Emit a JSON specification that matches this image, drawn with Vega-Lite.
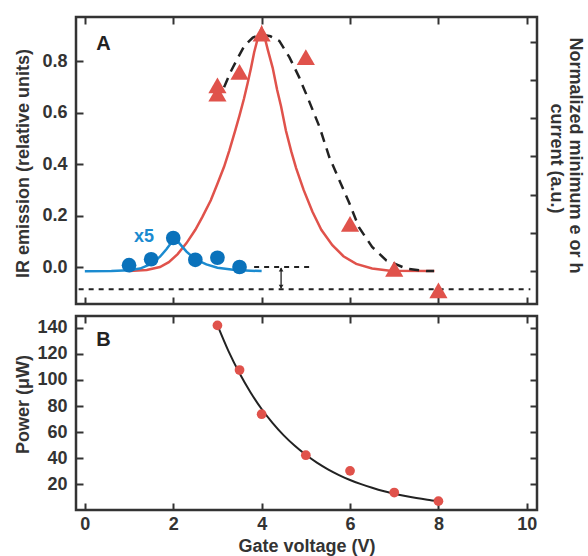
{
  "$schema": "https://vega.github.io/schema/vega-lite/v6.json",
  "background": "white",
  "padding": {"top": 14, "left": 12, "right": 2, "bottom": 0},
  "autosize": {"type": "pad"},
  "spacing": 6,
  "config": {
    "view": {"stroke": "#333333", "strokeWidth": 2.5},
    "axis": {
      "domain": false,
      "grid": false,
      "tickSize": -7,
      "tickWidth": 2,
      "tickColor": "#333333",
      "labelFont": "Liberation Sans",
      "labelFontWeight": "bold",
      "labelFontSize": 18,
      "labelColor": "#333333",
      "labelPadding": 16,
      "titleFont": "Liberation Sans",
      "titleFontWeight": "bold",
      "titleFontSize": 18,
      "titleColor": "#333333"
    }
  },
  "vconcat": [
    {
      "width": 461,
      "height": 287,
      "resolve": {"axis": {"x": "independent", "y": "independent"}},
      "layer": [
        {
          "data": {"values": [{"x": -0.14, "x2": 10.08, "y": -0.087}, {"x": 3.83, "x2": 5.1, "y": 0.0}]},
          "mark": {"type": "rule", "color": "#222222", "strokeWidth": 2, "strokeDash": [5, 5]},
          "encoding": {
            "x": {"field": "x", "type": "quantitative", "scale": {"domain": [-0.2, 10.23], "nice": false, "zero": false}, "axis": null},
            "x2": {"field": "x2"},
            "y": {"field": "y", "type": "quantitative", "scale": {"domain": [-0.144, 0.973], "nice": false, "zero": false}, "axis": null}
          }
        },
        {
          "data": {"values": [{"x": 4.44, "y": -0.004, "y2": -0.083}]},
          "mark": {"type": "rule", "color": "#222222", "strokeWidth": 1.3},
          "encoding": {
            "x": {"field": "x", "type": "quantitative", "scale": {"domain": [-0.2, 10.23], "nice": false, "zero": false}, "axis": null},
            "y": {"field": "y", "type": "quantitative", "scale": {"domain": [-0.144, 0.973], "nice": false, "zero": false}, "axis": null},
            "y2": {"field": "y2"}
          }
        },
        {
          "data": {"values": [{"x": 4.44, "y": -0.01, "s": "triangle-up"}, {"x": 4.44, "y": -0.077, "s": "triangle-down"}]},
          "mark": {"type": "point", "filled": true, "color": "#222222", "size": 22, "opacity": 1},
          "encoding": {
            "x": {"field": "x", "type": "quantitative", "scale": {"domain": [-0.2, 10.23], "nice": false, "zero": false}, "axis": null},
            "y": {"field": "y", "type": "quantitative", "scale": {"domain": [-0.144, 0.973], "nice": false, "zero": false}, "axis": null},
            "shape": {"field": "s", "type": "nominal", "scale": null, "legend": null}
          }
        },
        {
          "data": {"values": [
            {"x": 1.0, "y": -0.016}, {"x": 1.4, "y": -0.012}, {"x": 1.7, "y": 0.0}, {"x": 1.9, "y": 0.019},
            {"x": 2.1, "y": 0.05}, {"x": 2.3, "y": 0.093}, {"x": 2.5, "y": 0.145}, {"x": 2.66, "y": 0.195},
            {"x": 2.85, "y": 0.26}, {"x": 3.0, "y": 0.324}, {"x": 3.15, "y": 0.39}, {"x": 3.27, "y": 0.454},
            {"x": 3.4, "y": 0.53}, {"x": 3.5, "y": 0.59}, {"x": 3.6, "y": 0.655}, {"x": 3.68, "y": 0.713},
            {"x": 3.76, "y": 0.775}, {"x": 3.83, "y": 0.835}, {"x": 3.92, "y": 0.895}, {"x": 4.0, "y": 0.93},
            {"x": 4.06, "y": 0.9}, {"x": 4.14, "y": 0.845}, {"x": 4.25, "y": 0.775}, {"x": 4.35, "y": 0.69},
            {"x": 4.44, "y": 0.625}, {"x": 4.55, "y": 0.53}, {"x": 4.67, "y": 0.45}, {"x": 4.78, "y": 0.385},
            {"x": 4.95, "y": 0.3}, {"x": 5.15, "y": 0.215}, {"x": 5.35, "y": 0.145}, {"x": 5.6, "y": 0.085},
            {"x": 5.85, "y": 0.042}, {"x": 6.14, "y": 0.012}, {"x": 6.5, "y": -0.006}, {"x": 6.9, "y": -0.015},
            {"x": 7.91, "y": -0.016}
          ]},
          "mark": {"type": "line", "color": "#e0524b", "strokeWidth": 2.5},
          "encoding": {
            "x": {"field": "x", "type": "quantitative", "scale": {"domain": [-0.2, 10.23], "nice": false, "zero": false},
                  "axis": {"orient": "bottom", "values": [0, 2, 4, 6, 8, 10], "labels": false, "title": null}},
            "y": {"field": "y", "type": "quantitative", "scale": {"domain": [-0.144, 0.973], "nice": false, "zero": false},
                  "axis": {"orient": "left", "values": [0, 0.2, 0.4, 0.6, 0.8], "format": ".1f", "title": "IR emission (relative units)", "titleX": -44, "titleY": 146}}
          }
        },
        {
          "data": {"values": [
            {"x": 3.15, "y": 0.7}, {"x": 3.3, "y": 0.76}, {"x": 3.45, "y": 0.81}, {"x": 3.61, "y": 0.861},
            {"x": 3.8, "y": 0.893}, {"x": 4.0, "y": 0.905}, {"x": 4.2, "y": 0.898}, {"x": 4.4, "y": 0.88},
            {"x": 4.63, "y": 0.816}, {"x": 4.85, "y": 0.738}, {"x": 5.04, "y": 0.66}, {"x": 5.31, "y": 0.545},
            {"x": 5.53, "y": 0.428}, {"x": 5.76, "y": 0.337}, {"x": 5.99, "y": 0.246}, {"x": 6.2, "y": 0.155},
            {"x": 6.5, "y": 0.078}, {"x": 6.82, "y": 0.026}, {"x": 7.27, "y": -0.006}, {"x": 7.73, "y": -0.016},
            {"x": 7.9, "y": -0.016}
          ]},
          "mark": {"type": "line", "color": "#222222", "strokeWidth": 2.5, "strokeDash": [10, 7]},
          "encoding": {
            "x": {"field": "x", "type": "quantitative", "scale": {"domain": [-0.2, 10.23], "nice": false, "zero": false},
                  "axis": {"orient": "top", "values": [0, 2, 4, 6, 8, 10], "labels": false, "title": null}},
            "y": {"field": "y", "type": "quantitative", "scale": {"domain": [-0.144, 0.973], "nice": false, "zero": false},
                  "axis": {"orient": "right", "values": [-0.0156, 0.1323, 0.2802, 0.4319, 0.5798, 0.7276, 0.8755], "labels": false,
                           "title": "Normalized minimum e or h", "titleX": 28, "titleY": 138}}
          }
        },
        {
          "data": {"values": [
            {"x": 0.0, "y": -0.017}, {"x": 0.6, "y": -0.016}, {"x": 1.0, "y": -0.013}, {"x": 1.25, "y": -0.006},
            {"x": 1.5, "y": 0.012}, {"x": 1.7, "y": 0.04}, {"x": 1.85, "y": 0.07}, {"x": 2.0, "y": 0.105},
            {"x": 2.05, "y": 0.112}, {"x": 2.15, "y": 0.09}, {"x": 2.3, "y": 0.06}, {"x": 2.5, "y": 0.03},
            {"x": 2.75, "y": 0.01}, {"x": 3.0, "y": -0.003}, {"x": 3.4, "y": -0.012}, {"x": 4.0, "y": -0.016}
          ]},
          "mark": {"type": "line", "color": "#1b8bd0", "strokeWidth": 2.5},
          "encoding": {
            "x": {"field": "x", "type": "quantitative", "scale": {"domain": [-0.2, 10.23], "nice": false, "zero": false}, "axis": null},
            "y": {"field": "y", "type": "quantitative", "scale": {"domain": [-0.144, 0.973], "nice": false, "zero": false}, "axis": null}
          }
        },
        {
          "data": {"values": [
            {"x": 1.0, "y": 0.007}, {"x": 1.5, "y": 0.03}, {"x": 2.0, "y": 0.113},
            {"x": 2.5, "y": 0.028}, {"x": 3.0, "y": 0.036}, {"x": 3.5, "y": 0.0}
          ]},
          "mark": {"type": "circle", "color": "#0a72bb", "size": 215, "opacity": 1},
          "encoding": {
            "x": {"field": "x", "type": "quantitative", "scale": {"domain": [-0.2, 10.23], "nice": false, "zero": false}, "axis": null},
            "y": {"field": "y", "type": "quantitative", "scale": {"domain": [-0.144, 0.973], "nice": false, "zero": false}, "axis": null}
          }
        },
        {
          "data": {"values": [
            {"x": 3.0, "y": 0.675}, {"x": 3.0, "y": 0.707}, {"x": 3.5, "y": 0.759}, {"x": 4.0, "y": 0.908},
            {"x": 5.0, "y": 0.817}, {"x": 6.0, "y": 0.168}, {"x": 7.0, "y": -0.007}, {"x": 8.0, "y": -0.091}
          ]},
          "mark": {"type": "point", "shape": "triangle-up", "filled": true, "color": "#e0524b", "size": 330, "opacity": 1},
          "encoding": {
            "x": {"field": "x", "type": "quantitative", "scale": {"domain": [-0.2, 10.23], "nice": false, "zero": false}, "axis": null},
            "y": {"field": "y", "type": "quantitative", "scale": {"domain": [-0.144, 0.973], "nice": false, "zero": false},
                  "axis": {"orient": "right", "ticks": false, "labels": false, "title": "current (a.u.)", "titleX": 9, "titleY": 141}}
          }
        },
        {
          "data": {"values": [
            {"x": 0.42, "y": 0.868, "t": "A", "c": "#222222", "s": 20},
            {"x": 1.34, "y": 0.115, "t": "x5", "c": "#1b8bd0", "s": 18}
          ]},
          "mark": {"type": "text", "font": "Liberation Sans", "fontWeight": "bold", "align": "center", "baseline": "middle"},
          "encoding": {
            "x": {"field": "x", "type": "quantitative", "scale": {"domain": [-0.2, 10.23], "nice": false, "zero": false}, "axis": null},
            "y": {"field": "y", "type": "quantitative", "scale": {"domain": [-0.144, 0.973], "nice": false, "zero": false}, "axis": null},
            "text": {"field": "t"},
            "color": {"field": "c", "type": "nominal", "scale": null},
            "size": {"field": "s", "type": "quantitative", "scale": null}
          }
        }
      ]
    },
    {
      "width": 461,
      "height": 194,
      "resolve": {"axis": {"x": "independent", "y": "independent"}},
      "layer": [
        {
          "data": {"values": [
            {"x": 3.0, "y": 142}, {"x": 3.25, "y": 122.1}, {"x": 3.5, "y": 105.1}, {"x": 3.75, "y": 90.4},
            {"x": 4.0, "y": 77.7}, {"x": 4.25, "y": 66.9}, {"x": 4.5, "y": 57.5}, {"x": 4.75, "y": 49.5},
            {"x": 5.0, "y": 42.6}, {"x": 5.25, "y": 36.6}, {"x": 5.5, "y": 31.5}, {"x": 5.75, "y": 27.1},
            {"x": 6.0, "y": 23.3}, {"x": 6.25, "y": 20.1}, {"x": 6.5, "y": 17.3}, {"x": 6.75, "y": 14.8},
            {"x": 7.0, "y": 12.8}, {"x": 7.25, "y": 11.0}, {"x": 7.5, "y": 9.45}, {"x": 7.75, "y": 8.13},
            {"x": 8.0, "y": 7.0}
          ]},
          "mark": {"type": "line", "color": "#222222", "strokeWidth": 2, "interpolate": "monotone"},
          "encoding": {
            "x": {"field": "x", "type": "quantitative", "scale": {"domain": [-0.2, 10.23], "nice": false, "zero": false},
                  "axis": {"orient": "bottom", "values": [0, 2, 4, 6, 8, 10], "labelPadding": 12, "title": "Gate voltage (V)", "titlePadding": 4}},
            "y": {"field": "y", "type": "quantitative", "scale": {"domain": [0.3, 149], "nice": false, "zero": false},
                  "axis": {"orient": "left", "values": [20, 40, 60, 80, 100, 120, 140], "title": "Power (μW)", "titleX": -44, "titleY": 88}}
          }
        },
        {
          "data": {"values": [
            {"x": 3.0, "y": 141.8}, {"x": 3.5, "y": 107.6}, {"x": 4.0, "y": 73.7}, {"x": 5.0, "y": 42.3},
            {"x": 6.0, "y": 30.3}, {"x": 7.0, "y": 13.7}, {"x": 8.0, "y": 7.1}
          ]},
          "mark": {"type": "circle", "color": "#e0524b", "size": 95, "opacity": 1},
          "encoding": {
            "x": {"field": "x", "type": "quantitative", "scale": {"domain": [-0.2, 10.23], "nice": false, "zero": false},
                  "axis": {"orient": "top", "values": [0, 2, 4, 6, 8, 10], "labels": false, "title": null}},
            "y": {"field": "y", "type": "quantitative", "scale": {"domain": [0.3, 149], "nice": false, "zero": false},
                  "axis": {"orient": "right", "values": [20, 40, 60, 80, 100, 120, 140], "labels": false, "title": null}}
          }
        },
        {
          "data": {"values": [{"x": 0.42, "y": 130.6, "t": "B"}]},
          "mark": {"type": "text", "font": "Liberation Sans", "fontWeight": "bold", "fontSize": 20, "color": "#222222", "align": "center", "baseline": "middle"},
          "encoding": {
            "x": {"field": "x", "type": "quantitative", "scale": {"domain": [-0.2, 10.23], "nice": false, "zero": false}, "axis": null},
            "y": {"field": "y", "type": "quantitative", "scale": {"domain": [0.3, 149], "nice": false, "zero": false}, "axis": null},
            "text": {"field": "t"}
          }
        }
      ]
    }
  ]
}
